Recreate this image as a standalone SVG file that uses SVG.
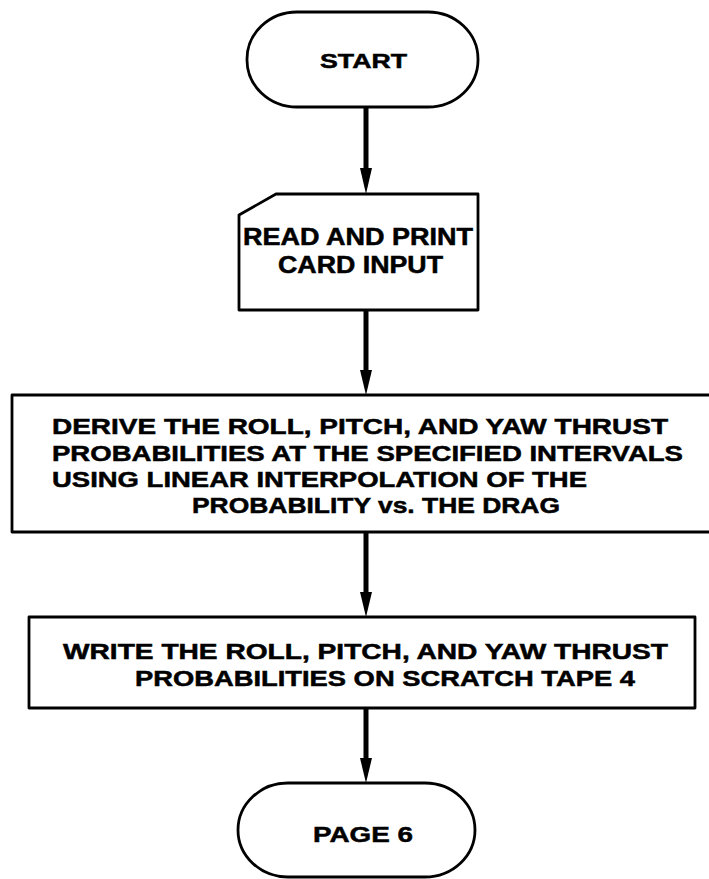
<svg xmlns="http://www.w3.org/2000/svg" width="709" height="879" viewBox="0 0 709 879">
<style>
.shape{fill:#fff;stroke:#000;stroke-width:2.8;stroke-linejoin:round}
.t{font-family:"Liberation Sans",Arial,sans-serif;font-weight:bold;fill:#000;stroke:#000;stroke-width:0.5}
.conn{stroke:#000;stroke-width:5;fill:none}
.head{fill:#000}
</style>
<rect width="709" height="879" fill="#fff"/>
<g id="connectors">
<line class="conn" x1="366" y1="107" x2="366" y2="170"/>
<path class="head" d="M360,168 L372,168 L366,194 Z"/>
<line class="conn" x1="366" y1="310" x2="366" y2="372"/>
<path class="head" d="M360,370 L372,370 L366,395 Z"/>
<line class="conn" x1="366" y1="532" x2="366" y2="594"/>
<path class="head" d="M360,592 L372,592 L366,617 Z"/>
<line class="conn" x1="366" y1="708" x2="366" y2="760"/>
<path class="head" d="M360,758 L372,758 L366,783 Z"/>
</g>
<g id="start">
<rect class="shape" x="247" y="12" width="231" height="95" rx="50" ry="47"/>
<text class="t" x="320" y="68" font-size="21" textLength="87" lengthAdjust="spacingAndGlyphs">START</text>
</g>
<g id="read">
<path class="shape" d="M276,194 L478,194 L478,310 L239,310 L239,215 Z"/>
<text class="t" x="243" y="245" font-size="23" textLength="230" lengthAdjust="spacingAndGlyphs">READ AND PRINT</text>
<text class="t" x="278" y="273" font-size="23" textLength="165" lengthAdjust="spacingAndGlyphs">CARD INPUT</text>
</g>
<g id="derive">
<rect class="shape" x="12" y="395" width="702" height="137"/>
<text class="t" x="52" y="434" font-size="22" textLength="616" lengthAdjust="spacingAndGlyphs">DERIVE THE ROLL, PITCH, AND YAW THRUST</text>
<text class="t" x="52" y="461" font-size="22" textLength="631" lengthAdjust="spacingAndGlyphs">PROBABILITIES AT THE SPECIFIED INTERVALS</text>
<text class="t" x="52" y="487" font-size="22" textLength="535" lengthAdjust="spacingAndGlyphs">USING LINEAR INTERPOLATION OF THE</text>
<text class="t" x="192" y="513" font-size="22" textLength="368" lengthAdjust="spacingAndGlyphs">PROBABILITY vs. THE DRAG</text>
</g>
<g id="write">
<rect class="shape" x="29" y="617" width="666" height="91"/>
<text class="t" x="63" y="659" font-size="22" textLength="605" lengthAdjust="spacingAndGlyphs">WRITE THE ROLL, PITCH, AND YAW THRUST</text>
<text class="t" x="135" y="686" font-size="22" textLength="500" lengthAdjust="spacingAndGlyphs">PROBABILITIES ON SCRATCH TAPE 4</text>
</g>
<g id="page6">
<rect class="shape" x="238" y="783" width="237" height="94" rx="50" ry="47"/>
<text class="t" x="313" y="842" font-size="22" textLength="100" lengthAdjust="spacingAndGlyphs">PAGE 6</text>
</g>
</svg>
